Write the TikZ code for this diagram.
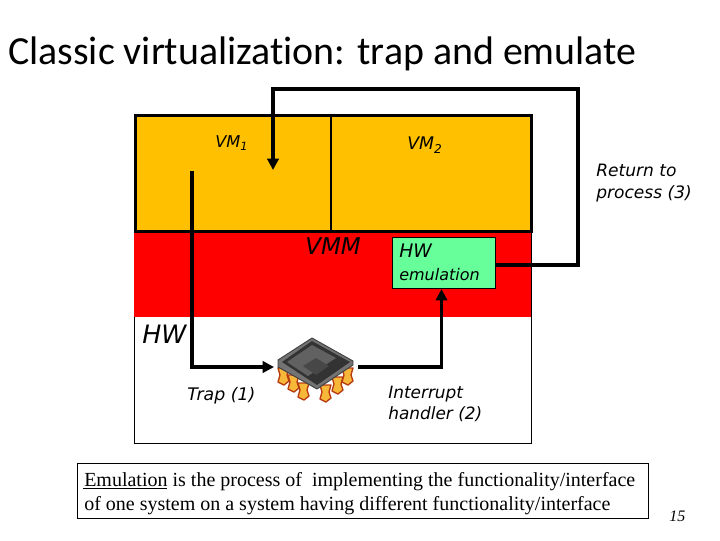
\documentclass[tikz,border=0pt]{standalone}
\usepackage{fontspec}
\setmainfont{Liberation Serif}
\newfontfamily\titlefont{Carlito}[Ligatures=NoCommon]
\newfontfamily\handfont{DejaVu Sans}[ItalicFont={DejaVu Sans Oblique}]
\usetikzlibrary{arrows.meta}
\definecolor{vmgold}{HTML}{FFC000}
\definecolor{emugreen}{HTML}{66FF99}
\definecolor{pinorange}{HTML}{F7B83A}
\definecolor{pinred}{HTML}{B83A10}
\begin{document}
\begin{tikzpicture}[x=0.75pt,y=-0.75pt,
  hand/.style={font=\handfont\itshape\fontsize{#1}{#1}\selectfont,inner sep=0pt,align=left,anchor=west},
  flow/.style={draw=black,line width=#1,line join=miter,-{Triangle[length=8.5pt,width=8.5pt]}},
  pin/.style={fill=pinorange,draw=pinred,line width=1pt,line join=round}]
\useasboundingbox (0,0) rectangle (720,540);
\fill[white] (0,0) rectangle (720,540);
\node[font=\titlefont\fontsize{29.9}{34}\selectfont,inner sep=0pt,anchor=west] (title) at (8,54) {Classic virtualization: trap and emulate};
% layers
\node[draw=black,line width=0.6pt,fill=white,minimum width=397.5pt*0.75,minimum height=212pt*0.75,inner sep=0pt,anchor=north west] (hwbox) at (133.5,231) {};
\fill[red] (133.5,231) rectangle (531,317);
\node[draw=black,line width=2.4pt,fill=vmgold,minimum width=396.5pt*0.75,minimum height=116pt*0.75,inner sep=0pt,anchor=north west] (vms) at (133.5,113.5) {};
\draw[black,line width=2.2pt] (331,113.5) -- (331,229.5);
% labels
\node[hand=12.2] (vm1) at (215,143) {VM\textsubscript{1}};
\node[hand=13] (vm2) at (407,145) {VM\textsubscript{2}};
\node[hand=17.3] (vmm) at (305,246) {VMM};
\node[hand=19] (hw) at (142,334) {HW};
\node[hand=12.8,align=left] (ret) at (596,183) {Return to\\[3.2pt]process (3)};
\node[hand=13] (trap) at (187,396) {Trap (1)};
\node[hand=12.7] (intr) at (388,403.5) {Interrupt\\[3pt]handler (2)};
% emulation box
\node[draw=black,line width=0.8pt,fill=emugreen,minimum width=103pt*0.75,minimum height=51pt*0.75,inner sep=0pt,anchor=north west] (emu) at (391.5,237) {};
\node[hand=14] (emu1) at (399,251) {HW};
\node[hand=12] (emu2) at (399,275) {emulation};
% chip
\coordinate (chipin) at (274,367);
\coordinate (chipout) at (358,367);
\foreach \x/\y in {283/368,293/375,303/383,325/385,337/377,347/368}{
  \path[pin] (\x-5,\y) -- (\x+6,\y) -- (\x+4,\y+7) -- (\x+6,\y+13) -- (\x+1,\y+17) -- (\x-5,\y+14) -- (\x-3,\y+7) -- cycle;
}
\path[fill=black!55,draw=black!75,line width=0.7pt,line join=round] (278,360) -- (312,338) -- (353,361) -- (353,365) -- (317,389) -- (278,367) -- cycle;
\path[fill=black!80] (282,362) -- (312,341) -- (350,362) -- (317,385) -- cycle;
\path[fill=black!62] (287,362) -- (312,345) -- (336,358) -- (308,376) -- cycle;
\path[fill=black!72] (303,366) -- (316,358) -- (329,366) -- (316,375) -- cycle;
% connectors
\coordinate (start) at (192,171);
\coordinate (c1) at (192,367);
\draw[flow=2.3pt] (start) -- (c1) -- (chipin);
\coordinate (c2) at (441.5,367);
\draw[flow=2.6pt] (chipout) -- (c2) -- (emu.south -| c2);
\coordinate (c3) at (578,265);
\coordinate (c4) at (578,89);
\coordinate (c5) at (273,89);
\coordinate (vmtarget) at (273,170);
\draw[flow=3pt] (emu.east |- c3) -- (c3) -- (c4) -- (c5) -- (vmtarget);
% definition
\node[draw=black,line width=0.8pt,fill=white,minimum width=571pt*0.75,minimum height=55pt*0.75,inner sep=0pt,anchor=north west] (defbox) at (77,463) {};
\node[font=\fontsize{15}{17}\selectfont,inner sep=0pt,anchor=west] (def1) at (84,482) {Emulation is the process of\ \ implementing the functionality/interface};
\node[font=\fontsize{15}{17}\selectfont,inner sep=0pt,anchor=west] (def2) at (84,506) {of one system on a system having different functionality/interface};
\draw[black,line width=1.4pt] (83,488.5) -- (167,488.5);
\node[font=\itshape\fontsize{12}{14}\selectfont,inner sep=0pt,anchor=west] (num) at (669,516) {15};
\end{tikzpicture}
\end{document}
